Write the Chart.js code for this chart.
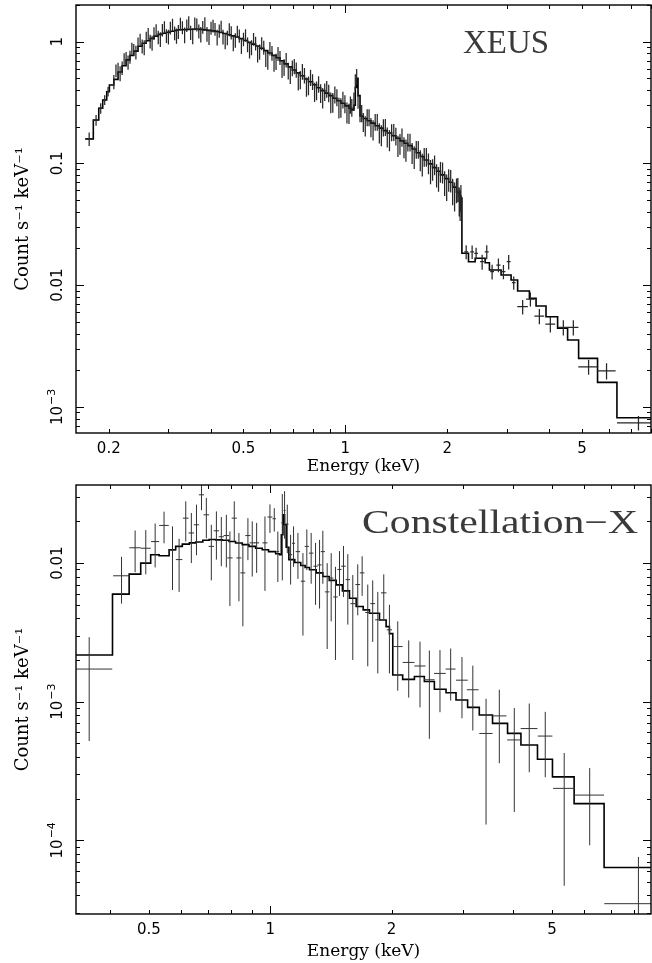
<!DOCTYPE html>
<html>
<head>
<meta charset="utf-8">
<script src="https://cdn.jsdelivr.net/npm/chart.js@4.4.1/dist/chart.umd.min.js"></script>
<style>
  body { margin: 0; background: #fff; }
  #wrap { width: 652px; height: 963px; }
  canvas { display: block; }
</style>
</head>
<body>
<div id="wrap">
  <canvas id="xeus" width="652" height="478"></canvas>
  <canvas id="conx" width="652" height="485"></canvas>
</div>
<script>
// ---------- XEUS spectrum ----------
// first wide channels (centre, half width, rate, error)
const xeusLowE = [0.175, 0.1834, 0.1893, 0.1945, 0.199];
const xeusLowHalf = [0.0048, 0.0034, 0.0026, 0.0026, 0.0018];
const xeusLowRate = [0.159, 0.227, 0.284, 0.332, 0.39];
const xeusLowErr = [0.02, 0.023, 0.028, 0.03, 0.035];
const xeusLowModelEdge = [0.1705, 0.180, 0.1868, 0.1919, 0.1972, 0.2008];
const xeusLowModel = [0.159, 0.227, 0.284, 0.332, 0.388, 0.44];

// dense channels 0.2 - 2.2 keV
const xeusE = [0.207, 0.213, 0.219, 0.225, 0.231, 0.237, 0.244, 0.251, 0.258, 0.265,
  0.272, 0.280, 0.288, 0.296, 0.304, 0.313, 0.321, 0.330, 0.340, 0.349,
  0.359, 0.369, 0.379, 0.390, 0.401, 0.412, 0.424, 0.435, 0.448, 0.460,
  0.473, 0.486, 0.500, 0.514, 0.528, 0.543, 0.558, 0.574, 0.590, 0.607,
  0.624, 0.641, 0.659, 0.678, 0.697, 0.716, 0.736, 0.757, 0.778, 0.800,
  0.822, 0.845, 0.869, 0.893, 0.918, 0.944, 0.970, 0.997, 1.025, 1.045,
  1.060, 1.070, 1.080, 1.090, 1.105, 1.130, 1.160, 1.190, 1.225, 1.260,
  1.295, 1.330, 1.370, 1.410, 1.450, 1.490, 1.530, 1.575, 1.620, 1.665,
  1.710, 1.760, 1.810, 1.860, 1.910, 1.965, 2.020, 2.075, 2.130, 2.170, 2.195];
const xeusRate = [0.47, 0.60, 0.61, 0.74, 0.75, 0.86, 0.97, 0.92, 1.08, 1.01,
  1.17, 1.09, 1.25, 1.12, 1.30, 1.18, 1.21, 1.31, 1.36, 1.19,
  1.41, 1.22, 1.32, 1.16, 1.30, 1.27, 1.23, 1.10, 1.08, 1.19,
  1.03, 1.12, 1.05, 0.95, 0.90, 0.97, 0.83, 0.90, 0.70, 0.81,
  0.69, 0.74, 0.62, 0.58, 0.61, 0.59, 0.49, 0.53, 0.44, 0.47,
  0.40, 0.38, 0.39, 0.38, 0.32, 0.35, 0.29, 0.31, 0.26, 0.29,
  0.33, 0.47, 0.52, 0.34, 0.26, 0.22, 0.24, 0.20, 0.22, 0.18,
  0.198, 0.166, 0.181, 0.168, 0.146, 0.137, 0.150, 0.123, 0.131, 0.107,
  0.114, 0.101, 0.090, 0.081, 0.086, 0.070, 0.074, 0.060, 0.061, 0.050, 0.053];
const xeusErr = [0.063, 0.07, 0.077, 0.084, 0.091, 0.098, 0.11, 0.12, 0.125, 0.13,
  0.14, 0.14, 0.147, 0.147, 0.154, 0.154, 0.16, 0.16, 0.16, 0.16,
  0.168, 0.16, 0.16, 0.16, 0.16, 0.154, 0.154, 0.154, 0.147, 0.147,
  0.14, 0.14, 0.133, 0.133, 0.126, 0.126, 0.119, 0.119, 0.112, 0.112,
  0.105, 0.098, 0.098, 0.091, 0.091, 0.084, 0.084, 0.077, 0.077, 0.07,
  0.07, 0.067, 0.064, 0.062, 0.059, 0.056, 0.053, 0.052, 0.049, 0.048,
  0.053, 0.07, 0.077, 0.059, 0.042, 0.039, 0.038, 0.036, 0.035, 0.034,
  0.032, 0.031, 0.029, 0.028, 0.028, 0.027, 0.025, 0.024, 0.022, 0.021,
  0.02, 0.0196, 0.018, 0.0175, 0.0168, 0.016, 0.0154, 0.0147, 0.014, 0.0133, 0.0133];
const xeusModel = [0.490, 0.564, 0.634, 0.708, 0.771, 0.836, 0.916, 0.971, 1.017, 1.063,
  1.110, 1.148, 1.171, 1.194, 1.217, 1.242, 1.253, 1.256, 1.261, 1.265,
  1.269, 1.262, 1.250, 1.237, 1.225, 1.213, 1.190, 1.166, 1.139, 1.116,
  1.092, 1.058, 1.021, 0.987, 0.955, 0.920, 0.883, 0.844, 0.807, 0.771,
  0.738, 0.697, 0.657, 0.620, 0.585, 0.554, 0.524, 0.494, 0.468, 0.442,
  0.418, 0.396, 0.378, 0.360, 0.343, 0.327, 0.312, 0.297, 0.284, 0.275,
  0.30, 0.42, 0.50, 0.36, 0.245, 0.234, 0.224, 0.214, 0.204, 0.195,
  0.186, 0.1775, 0.1687, 0.1607, 0.1532, 0.1462, 0.140, 0.1312, 0.1222, 0.114,
  0.1066, 0.0991, 0.0923, 0.0861, 0.0805, 0.0750, 0.070, 0.0638, 0.058, 0.054, 0.052];

// channels in between the ones above
const xeusMidE = [0.210, 0.216, 0.222, 0.228, 0.234, 0.2405, 0.2475, 0.2545, 0.2615, 0.2685,
  0.276, 0.284, 0.292, 0.300, 0.3085, 0.317, 0.3255, 0.335, 0.3445, 0.354,
  0.364, 0.374, 0.3845, 0.3955, 0.4065, 0.418, 0.4295, 0.4415, 0.454, 0.4665,
  0.4795, 0.493, 0.507, 0.521, 0.5355, 0.5505, 0.566, 0.582, 0.5985, 0.6155,
  0.6325, 0.650, 0.6685, 0.6875, 0.7065, 0.726, 0.7465, 0.7675, 0.789, 0.811,
  0.8335, 0.857, 0.881, 0.9055, 0.931, 0.957, 0.9835, 1.011, 1.035,
  1.1175, 1.145, 1.175, 1.2075, 1.2425, 1.2775, 1.3125, 1.350, 1.390, 1.430,
  1.470, 1.510, 1.5525, 1.5975, 1.6425, 1.6875, 1.735, 1.785, 1.835, 1.885,
  1.9375, 1.9925, 2.0475, 2.1025, 2.150, 2.183];
const xeusMidRate = [0.58, 0.55, 0.72, 0.68, 0.88, 0.82, 1.04, 0.90, 1.16, 0.98,
  1.24, 1.05, 1.32, 1.10, 1.38, 1.12, 1.40, 1.14, 1.45, 1.12,
  1.38, 1.15, 1.42, 1.10, 1.35, 1.09, 1.33, 1.02, 1.26, 0.98,
  1.21, 0.93, 1.13, 0.86, 1.05, 0.80, 0.97, 0.73, 0.88, 0.67,
  0.80, 0.60, 0.71, 0.54, 0.63, 0.48, 0.57, 0.43, 0.51, 0.39,
  0.45, 0.35, 0.41, 0.32, 0.37, 0.29, 0.335, 0.265, 0.305,
  0.26, 0.205, 0.24, 0.19, 0.22, 0.172, 0.20, 0.157, 0.182, 0.141,
  0.165, 0.130, 0.150, 0.114, 0.131, 0.099, 0.114, 0.087, 0.098, 0.076,
  0.085, 0.065, 0.073, 0.055, 0.062, 0.047];
const xeusMidErr = [0.07, 0.077, 0.084, 0.091, 0.098, 0.105, 0.12, 0.126, 0.133, 0.14,
  0.147, 0.147, 0.154, 0.154, 0.16, 0.16, 0.168, 0.168, 0.168, 0.168,
  0.168, 0.168, 0.168, 0.16, 0.16, 0.16, 0.154, 0.154, 0.154, 0.147,
  0.14, 0.14, 0.133, 0.133, 0.126, 0.126, 0.119, 0.112, 0.112, 0.105,
  0.105, 0.098, 0.098, 0.091, 0.091, 0.084, 0.084, 0.077, 0.077, 0.07,
  0.07, 0.067, 0.064, 0.062, 0.059, 0.056, 0.053, 0.052, 0.049,
  0.042, 0.039, 0.038, 0.036, 0.035, 0.034, 0.032, 0.031, 0.029, 0.028,
  0.028, 0.027, 0.025, 0.024, 0.022, 0.021, 0.02, 0.0196, 0.018, 0.0175,
  0.0168, 0.016, 0.0154, 0.0147, 0.014, 0.0133];

// grouped channels above the 2.2 keV edge
const xeusHighE = [2.275, 2.369, 2.434, 2.536, 2.617, 2.714, 2.833, 2.931, 3.038, 3.144,
  3.341, 3.521, 3.743, 4.033, 4.406, 4.716, 5.232, 5.912, 7.346];
const xeusHighHalf = [0.03, 0.03, 0.03, 0.035, 0.035, 0.035, 0.04, 0.04, 0.04, 0.04,
  0.12, 0.10, 0.125, 0.135, 0.16, 0.165, 0.355, 0.375, 1.0];
const xeusHighRate = [0.0188, 0.0188, 0.01825, 0.01557, 0.0188, 0.0129, 0.01463, 0.0129, 0.01557, 0.01046,
  0.00665, 0.00769, 0.00557, 0.00479, 0.0045, 0.0045, 0.002135, 0.00198, 0.00074];
const xeusHighErr = [0.0025, 0.0024, 0.002, 0.0022, 0.0025, 0.0018, 0.0019, 0.0017, 0.0021, 0.0013,
  0.0009, 0.001, 0.0008, 0.0007, 0.00065, 0.00065, 0.0003, 0.0003, 0.0001];
const xeusHighModelEdge = [2.21, 2.311, 2.418, 2.588, 2.665, 2.885, 3.088, 3.229, 3.498, 3.660,
  3.916, 4.238, 4.536, 4.889, 5.561, 6.345, 8.5];
const xeusHighModel = [0.01825, 0.01557, 0.01661, 0.01528, 0.01331, 0.01211, 0.01101, 0.00894, 0.00779, 0.00673,
  0.0055, 0.00442, 0.00354, 0.0025, 0.00159, 0.000814];

// ---------- Constellation-X spectrum ----------
const conE = [0.3554, 0.4275, 0.462, 0.491, 0.518, 0.545, 0.572, 0.594, 0.617, 0.637,
  0.656, 0.675, 0.694, 0.714, 0.735, 0.756, 0.778, 0.794, 0.814, 0.836,
  0.855, 0.880, 0.902, 0.925, 0.970, 0.998, 1.023, 1.044, 1.071, 1.085,
  1.102, 1.123, 1.142, 1.171, 1.205, 1.232, 1.263, 1.295, 1.325, 1.350,
  1.384, 1.416, 1.451, 1.485, 1.519, 1.557, 1.602, 1.648, 1.690, 1.745,
  1.795, 1.848, 1.912, 1.975, 2.071, 2.205, 2.352, 2.481, 2.636, 2.802,
  2.989, 3.18, 3.43, 3.70, 4.03, 4.39, 4.81, 5.36, 6.20, 8.19];
const conHalf = [0.05, 0.02, 0.015, 0.014, 0.012, 0.015, 0.011, 0.011, 0.010, 0.010,
  0.010, 0.010, 0.011, 0.011, 0.011, 0.011, 0.012, 0.012, 0.012, 0.012,
  0.012, 0.013, 0.013, 0.013, 0.014, 0.014, 0.010, 0.008, 0.006, 0.006,
  0.008, 0.010, 0.010, 0.015, 0.015, 0.015, 0.016, 0.016, 0.016, 0.016,
  0.018, 0.018, 0.018, 0.018, 0.02, 0.02, 0.022, 0.022, 0.022, 0.025,
  0.025, 0.028, 0.03, 0.03, 0.058, 0.074, 0.075, 0.075, 0.088, 0.08,
  0.10, 0.107, 0.13, 0.155, 0.16, 0.21, 0.20, 0.33, 0.53, 1.45];
const conRate = [0.00172, 0.0081, 0.0129, 0.0128, 0.0143, 0.0187, 0.0124, 0.0106, 0.0211, 0.0165,
  0.0189, 0.0311, 0.0223, 0.0132, 0.0171, 0.0155, 0.0158, 0.0109, 0.0211, 0.0109,
  0.0085, 0.0158, 0.0140, 0.0140, 0.0140, 0.0215, 0.0209, 0.0121, 0.0195, 0.0240,
  0.0191, 0.0115, 0.0139, 0.0121, 0.0074, 0.0132, 0.0118, 0.0095, 0.0097, 0.0121,
  0.0062, 0.0078, 0.0057, 0.0090, 0.0095, 0.0076, 0.0051, 0.0070, 0.0085, 0.0044,
  0.0051, 0.0039, 0.0061, 0.0033, 0.0025, 0.00192, 0.00181, 0.00144, 0.0016, 0.00172,
  0.00143, 0.00122, 0.00059, 0.00079, 0.00053, 0.00064, 0.000565, 0.000237, 0.000212, 0.0000349];
const conErr = [0.0012, 0.003, 0.0043, 0.0045, 0.005, 0.0048, 0.006, 0.0044, 0.0068, 0.0065,
  0.0075, 0.007, 0.0072, 0.0057, 0.0065, 0.006, 0.0065, 0.006, 0.0068, 0.0056,
  0.005, 0.0053, 0.006, 0.0055, 0.0077, 0.005, 0.004, 0.0048, 0.012, 0.009,
  0.0073, 0.0045, 0.0045, 0.0044, 0.0044, 0.0043, 0.0047, 0.0045, 0.005, 0.005,
  0.0038, 0.004, 0.0037, 0.0032, 0.0038, 0.004, 0.0031, 0.0028, 0.0027, 0.0026,
  0.0024, 0.0023, 0.0022, 0.0017, 0.0013, 0.00085, 0.0009, 0.0009, 0.00076, 0.0007,
  0.00067, 0.0006, 0.00046, 0.00043, 0.00037, 0.00033, 0.00028, 0.00019, 0.00012, 0.000041];
const conModelEdge = [0.30, 0.406, 0.4465, 0.477, 0.505, 0.530, 0.561, 0.5825, 0.605, 0.630,
  0.653, 0.680, 0.705, 0.732, 0.760, 0.790, 0.820, 0.852, 0.885, 0.920,
  0.955, 0.990, 1.031, 1.054, 1.065, 1.075, 1.085, 1.095, 1.112, 1.15,
  1.19, 1.22, 1.251, 1.30, 1.35, 1.40, 1.457, 1.51, 1.572, 1.633,
  1.70, 1.762, 1.866, 1.938, 1.975, 2.013, 2.13, 2.278, 2.411, 2.553,
  2.729, 2.889, 3.087, 3.30, 3.559, 3.878, 4.186, 4.601, 5.012, 5.672, 6.732, 9.6];
const conModel = [0.002175, 0.00597, 0.00833, 0.0100, 0.01148, 0.0113, 0.01248, 0.0132, 0.0137, 0.0140,
  0.0142, 0.0146, 0.0148, 0.0147, 0.0146, 0.0143, 0.01396, 0.0136, 0.0132, 0.0128,
  0.01248, 0.0121, 0.01167, 0.0115, 0.016, 0.0223, 0.019, 0.013, 0.0106, 0.0101,
  0.0096, 0.0093, 0.00895, 0.0085, 0.0080, 0.0075, 0.00697, 0.0063, 0.00558, 0.00486,
  0.0046, 0.00435, 0.00389, 0.00348, 0.0031, 0.00156, 0.00145, 0.00152, 0.0014, 0.00123,
  0.00116, 0.00103, 0.00091, 0.000802, 0.000698, 0.000591, 0.000487, 0.000384, 0.000287, 0.000184, 0.0000636];

// error bars as broken line segments (null breaks the line)
function errorBars(E, half, rate, err, floor) {
  let pts = [];
  E.forEach((e, i) => {
    let lo = rate[i] - err[i];
    pts.push({x: e, y: lo > 0 ? lo : floor}, {x: e, y: rate[i] + err[i]}, {x: e, y: null});
    if (half) {
      pts.push({x: e - half[i], y: rate[i]}, {x: e + half[i], y: rate[i]}, {x: e, y: null});
    }
  });
  return pts;
}

function histogram(edges, vals) {
  let pts = vals.map((v, i) => ({x: edges[i], y: v}));
  if (edges.length > vals.length) pts.push({x: edges[vals.length], y: vals[vals.length - 1]});
  return pts;
}

function logTicks(min, max) {
  let out = [];
  for (let k = Math.floor(Math.log10(min)); k <= Math.ceil(Math.log10(max)); k++) {
    for (let m = 1; m <= 9; m++) {
      let v = m * Math.pow(10, k);
      if (v >= min && v <= max) out.push([v, m === 1]);
    }
  }
  return out;
}

// frame, inward ticks, rotated y labels and the panel name
const framePlugin = {
  id: 'frame',
  afterDatasetsDraw(chart, args, opts) {
    const {ctx, chartArea: a, scales: {x, y}} = chart;
    ctx.save();
    ctx.strokeStyle = '#000';
    ctx.lineWidth = 1;
    ctx.beginPath();
    logTicks(x.min, x.max).forEach(([v, major]) => {
      let px = Math.round(x.getPixelForValue(v)) + 0.5;
      let len = major ? 8 : 4;
      ctx.moveTo(px, a.bottom); ctx.lineTo(px, a.bottom - len);
      ctx.moveTo(px, a.top); ctx.lineTo(px, a.top + len);
    });
    logTicks(y.min, y.max).forEach(([v, major]) => {
      let py = Math.round(y.getPixelForValue(v)) + 0.5;
      let len = major ? 8 : 4;
      ctx.moveTo(a.left, py); ctx.lineTo(a.left + len, py);
      ctx.moveTo(a.right, py); ctx.lineTo(a.right - len, py);
    });
    ctx.stroke();
    ctx.lineWidth = 1.4;
    ctx.strokeRect(a.left, a.top, a.right - a.left, a.bottom - a.top);

    ctx.fillStyle = '#000';
    ctx.textBaseline = 'middle';
    ctx.textAlign = 'left';
    opts.yLabels.forEach(l => {
      let py = y.getPixelForValue(l.value);
      ctx.save();
      ctx.translate(opts.labelX, py);
      ctx.rotate(-Math.PI / 2);
      ctx.font = '15px "DejaVu Sans"';
      let w1 = ctx.measureText(l.text).width;
      let w2 = 0;
      if (l.sup) { ctx.font = '11px "DejaVu Sans"'; w2 = ctx.measureText(l.sup).width + 1; }
      let start = -(w1 + w2) / 2;
      ctx.font = '15px "DejaVu Sans"';
      ctx.fillText(l.text, start, 0);
      if (l.sup) { ctx.font = '11px "DejaVu Sans"'; ctx.fillText(l.sup, start + w1 + 1, -6); }
      ctx.restore();
    });

    let t = opts.name;
    ctx.font = t.size + 'px "Liberation Serif"';
    ctx.fillStyle = '#3a3a3a';
    ctx.textBaseline = 'alphabetic';
    let w = ctx.measureText(t.text).width;
    ctx.translate(t.x, t.y);
    ctx.scale(t.width / w, 1);
    ctx.fillText(t.text, 0, 0);
    ctx.restore();
  }
};

function drawSpectrum(id, cfg) {
  return new Chart(document.getElementById(id), {
    type: 'scatter',
    data: {
      datasets: [
        {data: cfg.bars, showLine: true, borderColor: cfg.barColor, borderWidth: cfg.barWidth, pointRadius: 0, spanGaps: false},
        {data: cfg.model, showLine: true, stepped: true, borderColor: '#000', borderWidth: 1.6, pointRadius: 0}
      ]
    },
    options: {
      responsive: false,
      animation: false,
      devicePixelRatio: 1,
      events: [],
      layout: {padding: {top: cfg.padTop, right: 1, left: 0, bottom: 0}},
      plugins: {
        legend: {display: false},
        tooltip: {enabled: false},
        frame: {yLabels: cfg.yLabels, labelX: 58.5, name: cfg.name}
      },
      scales: {
        x: {
          type: 'logarithmic', min: cfg.xMin, max: cfg.xMax, bounds: 'data',
          grid: {display: false, drawTicks: false}, border: {display: false},
          afterBuildTicks: s => {
            s.ticks = cfg.xTicks.map(v => ({value: v}));
            s.min = cfg.xMin; s.max = cfg.xMax;
          },
          afterFit: s => { s.height = cfg.xHeight; },
          ticks: {autoSkip: false, maxRotation: 0, padding: 7, color: '#000',
            font: {family: 'DejaVu Sans', size: 15}, callback: v => String(v)},
          title: {display: true, text: 'Energy (keV)', color: '#000',
            font: {family: 'DejaVu Serif', size: 17, lineHeight: 1.2}, padding: {top: 0, bottom: 1}}
        },
        y: {
          type: 'logarithmic', min: cfg.yMin, max: cfg.yMax, bounds: 'data',
          grid: {display: false, drawTicks: false}, border: {display: false},
          ticks: {display: false},
          afterBuildTicks: s => { s.min = cfg.yMin; s.max = cfg.yMax; },
          afterFit: s => { s.width = 76; },
          title: {display: true, text: 'Count s⁻¹ keV⁻¹', color: '#000',
            font: {family: 'DejaVu Serif', size: 18, lineHeight: 1.2}, padding: {top: 13, bottom: 0}}
        }
      }
    },
    plugins: [framePlugin]
  });
}

const xeusBars = errorBars(xeusLowE, xeusLowHalf, xeusLowRate, xeusLowErr, 1e-5)
  .concat(errorBars(xeusE, null, xeusRate, xeusErr, 1e-5))
  .concat(errorBars(xeusMidE, null, xeusMidRate, xeusMidErr, 1e-5))
  .concat(errorBars(xeusHighE, xeusHighHalf, xeusHighRate, xeusHighErr, 1e-5));
const xeusLine = histogram(xeusLowModelEdge, xeusLowModel)
  .concat(xeusE.map((e, i) => ({x: e, y: xeusModel[i]})))
  .concat(histogram(xeusHighModelEdge, xeusHighModel));

drawSpectrum('xeus', {
  bars: xeusBars, model: xeusLine, barColor: '#262626', barWidth: 1.25,
  xMin: 0.16, xMax: 8.0, yMin: 6.1e-4, yMax: 2.0,
  xTicks: [0.2, 0.5, 1, 2, 5], padTop: 5, xHeight: 45,
  yLabels: [{value: 1, text: '1'}, {value: 0.1, text: '0.1'}, {value: 0.01, text: '0.01'},
            {value: 0.001, text: '10', sup: '−3'}],
  name: {text: 'XEUS', x: 463, y: 53, size: 33, width: 86}
});

drawSpectrum('conx', {
  bars: errorBars(conE, conHalf, conRate, conErr, 1e-7), barColor: '#333', barWidth: 1,
  model: histogram(conModelEdge, conModel),
  xMin: 0.3296, xMax: 8.8, yMin: 2.94e-5, yMax: 0.0366,
  xTicks: [0.5, 1, 2, 5], padTop: 7, xHeight: 49,
  yLabels: [{value: 0.01, text: '0.01'}, {value: 0.001, text: '10', sup: '−3'},
            {value: 0.0001, text: '10', sup: '−4'}],
  name: {text: 'Constellation−X', x: 362, y: 55, size: 33, width: 276}
});
</script>
</body>
</html>
